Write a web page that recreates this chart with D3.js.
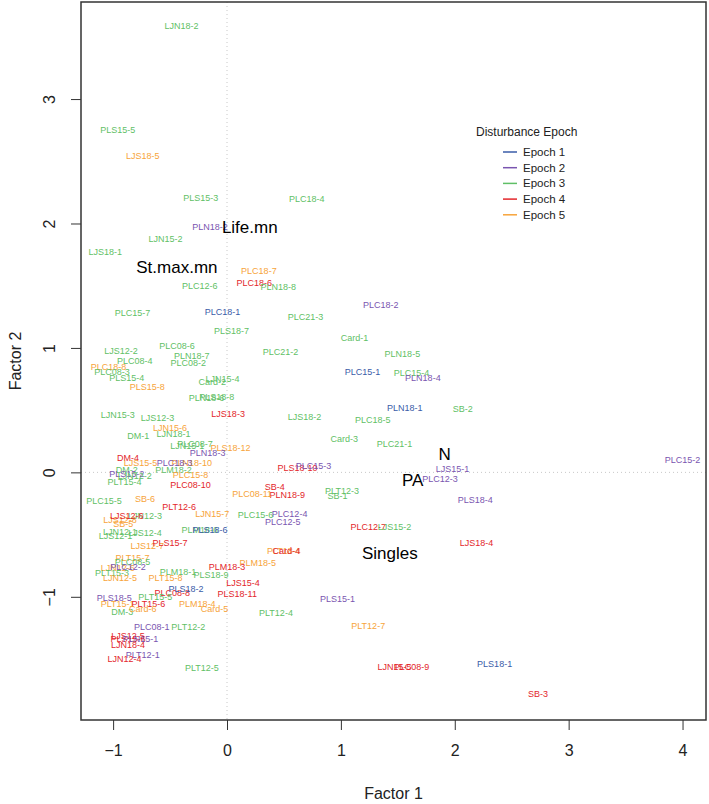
<!DOCTYPE html>
<html>
<head>
<meta charset="utf-8">
<script src="https://cdn.jsdelivr.net/npm/d3@7"></script>
<style>
  body { margin: 0; background: #fff; }
  svg { display: block; font-family: "Liberation Sans", Arial, Helvetica, sans-serif; }
</style>
</head>
<body>
<div id="chart"></div>
<script>
// sample scores on the two factors, epoch 1..5
const sampleNames = ["LJN18-2","PLS15-5","LJS18-5","PLS15-3","PLC18-4","PLN18-2","LJN15-2","LJS18-1","PLC18-7","PLC18-6",
  "PLN18-8","PLC12-6","PLC15-7","PLC18-1","PLS18-7","PLC08-6","LJS12-2","PLN18-7","PLC08-4","PLC08-2",
  "PLC18-8","PLC08-3","PLS15-4","PLS15-8","Card-2","LJN15-4","PLN18-6","PLS18-8","LJN15-3","LJS12-3",
  "LJS18-3","PLC18-2","PLC21-3","Card-1","PLC21-2","PLN18-5","PLC15-1","PLC15-4","PLN18-4","PLN18-1",
  "SB-2","LJS18-2","PLC18-5","Card-3","PLC21-1","LJS15-1","PLS18-10","PLC15-3","PLC12-3","SB-4",
  "PLN18-9","PLT12-3","SB-1","PLC12-4","PLC12-5","PLC15-6","PLC12-7","LJS15-2","PLS18-4","LJS18-4",
  "PLC15-2","PLS18-1","SB-3","PLT18-4","Card-4","PLM18-5","PLS15-1","PLT12-4","PLT12-7","LJN15-5",
  "PLC08-9","LJN15-6","DM-1","LJN18-1","LJN15-1","PLC08-7","PLS18-12","PLN18-3","DM-4","LJS15-5",
  "PLN18-10","PLC18-3","DM-2","PLS15-2","LJN12-2","PLM18-2","PLC15-8","PLT15-4","PLC08-10","PLC08-11",
  "PLC15-5","SB-6","PLT12-6","LJS12-8","LJN12-3","LJS12-6","SB-5","LJN15-7","PLM18-6","PLS18-6",
  "LJN12-1","LJS12-4","LJS12-1","LJS12-7","PLS15-7","PLT15-7","PLC08-5","LJN12-6","PLC12-2","PLT15-3",
  "LJN12-5","PLM18-1","PLS18-9","PLM18-3","PLT15-8","LJS15-4","PLS18-11","PLC08-8","PLS18-2","PLS18-5",
  "PLT15-5","PLT15-1","PLT15-6","PLM18-4","Card-5","DM-3","Card-6","PLC08-1","PLT12-2","LJS12-5",
  "PLS15-6","PLN15-1","LJN18-4","PLT12-1","LJN12-4","PLT12-5"];

const factor1 = [-0.40,-0.96,-0.74,-0.23,0.70,-0.15,-0.54,-1.07,0.28,0.24,
  0.45,-0.24,-0.83,-0.04,0.04,-0.44,-0.93,-0.31,-0.81,-0.34,
  -1.04,-1.01,-0.88,-0.70,-0.13,-0.04,-0.18,-0.09,-0.96,-0.61,
  0.01,1.35,0.69,1.12,0.47,1.54,1.19,1.62,1.72,1.56,
  2.07,0.68,1.28,1.03,1.47,1.98,0.62,0.76,1.87,0.42,
  0.53,1.01,0.97,0.55,0.49,0.25,1.24,1.47,2.18,2.19,
  4.00,2.35,2.73,0.50,0.52,0.27,0.97,0.43,1.24,1.47,
  1.62,-0.50,-0.78,-0.47,-0.35,-0.28,0.03,-0.17,-0.87,-0.76,
  -0.31,-0.46,-0.88,-0.88,-0.81,-0.47,-0.32,-0.90,-0.32,0.22,
  -1.08,-0.72,-0.42,-0.94,-0.72,-0.88,-0.91,-0.13,-0.24,-0.15,
  -0.94,-0.72,-0.98,-0.70,-0.50,-0.83,-0.83,-0.96,-0.87,-1.01,
  -0.94,-0.43,-0.14,0.00,-0.54,0.14,0.09,-0.48,-0.36,-0.99,
  -0.63,-0.96,-0.69,-0.26,-0.11,-0.92,-0.74,-0.66,-0.34,-0.87,
  -0.87,-0.76,-0.87,-0.74,-0.90,-0.22];

const factor2 = [3.59,2.75,2.54,2.21,2.20,1.97,1.88,1.77,1.62,1.52,
  1.49,1.50,1.28,1.29,1.14,1.02,0.98,0.94,0.90,0.88,
  0.85,0.81,0.76,0.69,0.73,0.75,0.60,0.61,0.46,0.44,
  0.47,1.35,1.25,1.08,0.97,0.95,0.81,0.80,0.76,0.52,
  0.51,0.45,0.42,0.27,0.23,0.03,0.04,0.05,-0.05,-0.12,
  -0.18,-0.15,-0.19,-0.33,-0.40,-0.34,-0.44,-0.44,-0.22,-0.57,
  0.10,-1.54,-1.78,-0.63,-0.63,-0.73,-1.02,-1.13,-1.23,-1.56,
  -1.56,0.36,0.29,0.31,0.21,0.23,0.20,0.16,0.12,0.08,
  0.08,0.08,0.02,-0.01,-0.03,0.02,-0.02,-0.08,-0.10,-0.17,
  -0.23,-0.21,-0.28,-0.38,-0.35,-0.35,-0.41,-0.33,-0.46,-0.46,
  -0.48,-0.49,-0.51,-0.59,-0.57,-0.69,-0.72,-0.77,-0.76,-0.81,
  -0.85,-0.80,-0.82,-0.76,-0.85,-0.89,-0.98,-0.97,-0.94,-1.01,
  -1.00,-1.06,-1.06,-1.06,-1.10,-1.12,-1.10,-1.24,-1.24,-1.31,
  -1.34,-1.34,-1.39,-1.47,-1.50,-1.57];

const sampleEpoch = [3,3,5,3,3,2,3,3,5,4,
  3,3,3,1,3,3,3,3,3,3,
  5,3,3,5,3,3,3,3,3,3,
  4,2,3,3,3,3,1,3,2,1,
  3,3,3,3,3,2,4,2,2,4,
  4,3,3,2,2,3,4,3,2,4,
  2,1,4,5,4,5,2,3,5,4,
  4,5,3,3,3,3,5,2,4,5,
  5,2,3,2,3,3,5,3,4,5,
  3,5,4,5,3,4,5,5,3,1,
  3,3,3,5,4,5,3,5,2,3,
  5,3,3,4,5,4,4,4,1,2,
  3,5,4,5,5,3,5,2,3,4,
  4,2,4,2,4,3];

// variable loadings drawn as big labels
const varNames = ["Life.mn", "St.max.mn", "N", "PA", "Singles"];
const varF1 = [0.20, -0.44, 1.91, 1.63, 1.43];
const varF2 = [1.97, 1.65, 0.15, -0.06, -0.65];

const epochLabels = ["Epoch 1", "Epoch 2", "Epoch 3", "Epoch 4", "Epoch 5"];
const epochColors = ["#3a5ca8", "#7a55b0", "#5fbf66", "#e3262b", "#f7a43a"];

const xTicks = [-1, 0, 1, 2, 3, 4];
const yTicks = [-1, 0, 1, 2, 3];

const width = 709, height = 804;
const margin = {top: 2, right: 3, bottom: 84, left: 81};

const svg = d3.select('#chart').append('svg')
    .attr('width', width)
    .attr('height', height);

const x = d3.scaleLinear()
    .domain([-1.282, 4.206])
    .range([margin.left, width - margin.right]);

const y = d3.scaleLinear()
    .domain([-1.99, 3.78])
    .range([height - margin.bottom, margin.top]);

const color = d3.scaleOrdinal().domain([1, 2, 3, 4, 5]).range(epochColors);

// zero reference lines
svg.append('line')
    .attr('x1', x(0)).attr('x2', x(0))
    .attr('y1', margin.top).attr('y2', height - margin.bottom)
    .attr('stroke', '#c8c8c8').attr('stroke-dasharray', '1,3');
svg.append('line')
    .attr('x1', margin.left).attr('x2', width - margin.right)
    .attr('y1', y(0)).attr('y2', y(0))
    .attr('stroke', '#c8c8c8').attr('stroke-dasharray', '1,3');

// sample labels
svg.append('g')
    .selectAll('text')
    .data(sampleNames)
    .enter().append('text')
    .attr('x', (d, i) => x(factor1[i]))
    .attr('y', (d, i) => y(factor2[i]))
    .attr('dy', '0.35em')
    .attr('text-anchor', 'middle')
    .attr('font-size', 9)
    .attr('fill', (d, i) => color(sampleEpoch[i]))
    .text(d => d);

// variable labels
svg.append('g')
    .selectAll('text')
    .data(varNames)
    .enter().append('text')
    .attr('x', (d, i) => x(varF1[i]))
    .attr('y', (d, i) => y(varF2[i]))
    .attr('dy', '0.35em')
    .attr('text-anchor', 'middle')
    .attr('font-size', 17)
    .attr('fill', '#000')
    .text(d => d);

// axes
const xAxis = svg.append('g')
    .attr('transform', `translate(0,${height - margin.bottom})`)
    .call(d3.axisBottom(x).tickValues(xTicks).tickSize(10).tickPadding(15).tickFormat(d3.format('d')));

const yAxis = svg.append('g')
    .attr('transform', `translate(${margin.left},0)`)
    .call(d3.axisLeft(y).tickValues(yTicks).tickSize(10).tickFormat(d3.format('d')));

[xAxis, yAxis].forEach(a => {
    a.select('.domain').remove();
    a.selectAll('line').attr('stroke', '#333').attr('stroke-width', 1);
    a.selectAll('text').attr('font-size', 16).attr('fill', '#222')
        .attr('font-family', '"Liberation Sans", Arial, sans-serif');
});

yAxis.selectAll('text')
    .attr('x', null).attr('dy', null)
    .attr('text-anchor', 'middle')
    .attr('transform', 'translate(-26,0) rotate(-90)');

// plot box
svg.append('rect')
    .attr('x', margin.left).attr('y', margin.top)
    .attr('width', width - margin.left - margin.right)
    .attr('height', height - margin.top - margin.bottom)
    .attr('fill', 'none')
    .attr('stroke', '#333')
    .attr('stroke-width', 1.5);

// axis titles
svg.append('text')
    .attr('x', (margin.left + width - margin.right) / 2)
    .attr('y', 799)
    .attr('text-anchor', 'middle')
    .attr('font-size', 16)
    .attr('fill', '#222')
    .text('Factor 1');

svg.append('text')
    .attr('transform', `translate(21,${(margin.top + height - margin.bottom) / 2}) rotate(-90)`)
    .attr('text-anchor', 'middle')
    .attr('font-size', 16)
    .attr('fill', '#222')
    .text('Factor 2');

// legend
const legend = svg.append('g').attr('transform', 'translate(476,132)');
legend.append('text')
    .attr('x', 0).attr('y', 0)
    .attr('dy', '0.35em')
    .attr('font-size', 12)
    .attr('fill', '#222')
    .text('Disturbance Epoch');

const rows = legend.selectAll('.row')
    .data(epochLabels)
    .enter().append('g')
    .attr('class', 'row')
    .attr('transform', (d, i) => `translate(0,${20 + i * 15.7})`);

rows.append('line')
    .attr('x1', 27).attr('x2', 41)
    .attr('y1', 0).attr('y2', 0)
    .attr('stroke', (d, i) => epochColors[i])
    .attr('stroke-width', 1.5);

rows.append('text')
    .attr('x', 47).attr('y', 0)
    .attr('dy', '0.35em')
    .attr('font-size', 11.5)
    .attr('fill', '#222')
    .text(d => d);
</script>
</body>
</html>
